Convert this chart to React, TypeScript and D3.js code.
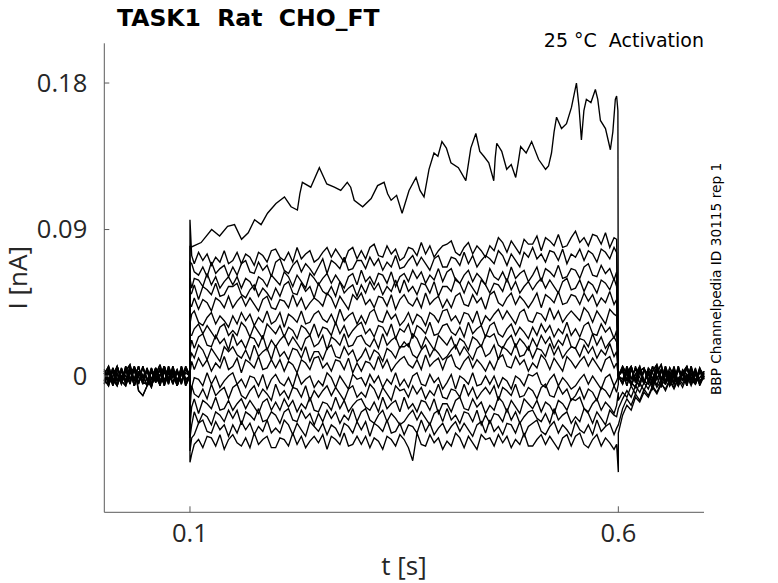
import React from 'react';
import * as d3 from 'd3';

// ---------- text ----------
const title = 'TASK1  Rat  CHO_FT';
const subtitle = '25 °C  Activation';
const sideNote = 'BBP Channelpedia ID 30115 rep 1';
const xLabel = 't [s]';
const yLabel = 'I [nA]';

// ---------- axes ----------
const xDomain = [0, 0.7];
const yDomain = [-0.0837, 0.2044]; // nA
const xTicks = [0.1, 0.6];
const yTicks = [0, 0.09, 0.18];
const xTickLabels = ['0.1', '0.6'];
const yTickLabels = ['0', '0.09', '0.18'];

// ---------- sample times (s) ----------
const preTimes = [0, 0.005, 0.01, 0.015, 0.02, 0.025, 0.03, 0.035, 0.04, 0.045, 0.05, 0.055, 0.06, 0.065, 0.07, 0.075, 0.08, 0.085, 0.09, 0.095, 0.1];
const pulseTimes = [
  0.102, 0.105, 0.11, 0.115, 0.12, 0.125, 0.13, 0.135, 0.14, 0.145,
  0.15, 0.155, 0.16, 0.165, 0.17, 0.175, 0.18, 0.185, 0.19, 0.195,
  0.2, 0.205, 0.21, 0.215, 0.22, 0.225, 0.23, 0.235, 0.24, 0.245,
  0.25, 0.255, 0.26, 0.265, 0.27, 0.275, 0.28, 0.285, 0.29, 0.295,
  0.3, 0.305, 0.31, 0.315, 0.32, 0.325, 0.33, 0.335, 0.34, 0.345,
  0.35, 0.355, 0.36, 0.365, 0.37, 0.375, 0.38, 0.385, 0.39, 0.395,
  0.4, 0.405, 0.41, 0.415, 0.42, 0.425, 0.43, 0.435, 0.44, 0.445,
  0.45, 0.455, 0.46, 0.465, 0.47, 0.475, 0.48, 0.485, 0.49, 0.495,
  0.5, 0.505, 0.51, 0.515, 0.52, 0.525, 0.53, 0.535, 0.54, 0.545,
  0.55, 0.555, 0.56, 0.565, 0.57, 0.575, 0.58, 0.585, 0.59, 0.595,
  0.598,
];
const postTimes = [0.6, 0.605, 0.61, 0.615, 0.62, 0.625, 0.63, 0.635, 0.64, 0.645, 0.65, 0.655, 0.66, 0.665, 0.67, 0.675, 0.68, 0.685, 0.69, 0.695, 0.7];

// ---------- holding (pre-pulse) currents, pA ----------
const pre1 = [2, -4, 5, -3, 4, -5, 3, -2, 6, -4, -5, 3, -4, 5, -3, 4, -5, 3, -4, 5, 0];
const pre2 = [-3, 5, -4, 6, -2, 4, -5, 5, -9, -12, -6, -2, 5, -4, 3, -5, 6, -3, 4, -4, 0];
const pre3 = [4, -2, 3, -6, 5, -3, 4, -6, 3, -5, 4, -2, 3, -6, 4, -3, 5, -6, 3, -2, 0];
const pre4 = [-5, 3, -6, 2, -4, 6, -2, 4, -5, 6, -3, 5, -2, 4, -6, 2, -4, 3, -5, 6, 0];
const pre5 = [1, 6, -2, -6, 3, 0, -4, 6, -1, -3, 5, -6, 1, 7, -3, -1, 4, -5, 6, -2, 0];
const pre6 = [-2, -6, 4, 1, -5, 3, 7, -3, 0, 5, -2, -7, 4, 0, 6, -4, 2, -6, 1, 4, 0];
const pre7 = [3, -5, 0, 6, -3, -6, 2, 5, -4, 1, -6, 4, -1, -5, 6, -2, 3, -4, 5, -6, 0];
const pre8 = [-4, 2, -5, 4, 0, -3, 6, -6, 2, -1, 3, -5, 5, -2, -4, 6, -1, 4, -3, 2, 0];

// ---------- post-pulse currents, pA ----------
const post1 = [0, 5, -3, 6, -4, 3, -5, 4, -2, 6, -4, 5, -3, 4, -6, 3, -2, 5, -4, 3, -2];
const post2 = [0, -4, 6, -2, 5, -5, 4, -3, 6, -2, 4, -5, 3, -4, 6, -3, 5, -2, 4, -5, 3];
const post3 = [0, 3, -6, 4, -2, 5, -4, 2, -5, 4, -3, 6, -2, 5, -4, 2, -6, 4, -3, 5, -1];
const post4 = [0, -2, 4, -6, 1, 6, -3, -5, 3, 7, -1, -4, 5, 0, -6, 2, 6, -2, -5, 4, 1];
const post5 = [0, 6, 1, -4, -7, 3, 5, -2, -6, 2, 7, -3, 0, -5, 4, 1, -3, 6, -4, -1, 2];
const post6 = [0, -5, 2, 6, -3, -6, 4, 1, -4, 5, -2, 3, -6, 0, 4, -3, 6, -5, 2, -4, 1];
const post7 = [0, 4, -2, -5, 6, -1, -4, 5, 2, -6, 3, 0, -3, 6, -5, 4, 1, -2, 5, -6, 0];
const tail1 = [-30, -20, -14, -18, -11, -15, -8, -12, -6, -10, -4, -9, -3, -8, -2, -7, 0, -6, 1, -5, 0];
const tail2 = [-15, -10, -13, -6, -11, -4, -9, -2, -8, 0, -7, 2, -6, 3, -5, 1, -4, 2, -5, 3, -2];
const tail3 = [-20, -14, -9, -13, -6, -10, -4, -8, -1, -7, -3, -5, 1, -4, -2, 3, -3, 1, -4, 2, 0];
const tail4 = [-35, -24, -18, -21, -13, -16, -10, -13, -7, -11, -5, -8, -2, -7, -1, -5, 1, -4, 2, -3, 0];

// ---------- largest sweep (read at irregular times), pA ----------
const topTimes = [
  0.1005, 0.113, 0.1253, 0.1346, 0.1439, 0.152, 0.1602, 0.168, 0.1754, 0.183,
  0.1905, 0.2004, 0.2103, 0.218, 0.2254, 0.2283, 0.2312, 0.241, 0.251, 0.2597,
  0.2685, 0.276, 0.2836, 0.2876, 0.2917, 0.3016, 0.3115, 0.319, 0.3266, 0.3307,
  0.3348, 0.3412, 0.3476, 0.3557, 0.3639, 0.3685, 0.3732, 0.379, 0.3848, 0.3894,
  0.3941, 0.3993, 0.4046, 0.4133, 0.422, 0.4278, 0.4337, 0.4383, 0.443, 0.4488,
  0.4546, 0.4563, 0.4581, 0.4639, 0.4697, 0.475, 0.4802, 0.4831, 0.486, 0.4924,
  0.4988, 0.507, 0.5151, 0.5185, 0.522, 0.525, 0.5279, 0.5337, 0.5395, 0.5453,
  0.5511, 0.554, 0.5569, 0.5598, 0.5627, 0.568, 0.5732, 0.576, 0.5791, 0.585,
  0.5907, 0.5936, 0.5965, 0.598, 0.5995,
];
const topValues = [
  79, 82, 90, 86, 92, 93, 84, 88, 96, 93,
  100, 106, 110, 104, 102, 112, 119, 116, 128, 118,
  116, 114, 119, 116, 108, 104, 109, 117, 119, 112,
  108, 111, 100, 114, 122, 114, 110, 127, 137, 135,
  144, 140, 131, 128, 120, 140, 149, 138, 135, 131,
  120, 134, 143, 138, 127, 130, 122, 131, 141, 137,
  144, 133, 127, 129, 137, 150, 159, 152, 155, 165,
  180, 166, 145, 163, 170, 168, 176, 170, 157, 152,
  139, 150, 170, 172, 163,
];

// ---------- other sweeps during the step (pulseTimes), pA ----------
const sweepB = [
  74, 69, 76, 71, 75, 68, 73, 70, 77, 69, 71, 76, 69, 75, 73, 68, 76, 74, 70, 77,
  78, 73, 71, 76, 70, 79, 72, 75, 77, 70, 72, 76, 79, 73, 78, 74, 70, 77, 79, 72,
  77, 72, 79, 81, 74, 73, 80, 75, 78, 71, 73, 79, 78, 74, 82, 75, 80, 73, 77, 80,
  81, 83, 76, 74, 79, 82, 75, 80, 77, 73, 80, 77, 85, 82, 76, 83, 79, 75, 84, 81,
  81, 86, 77, 85, 83, 80, 87, 79, 80, 85, 89, 82, 85, 80, 87, 86, 81, 88, 79, 85, 84,
];
const sweepC = [
  69, 64, 62, 67, 61, 70, 63, 66, 68, 61, 67, 62, 69, 71, 64, 63, 70, 65, 68, 61,
  70, 72, 65, 63, 68, 71, 64, 69, 66, 62, 67, 72, 63, 71, 69, 66, 73, 65, 66, 71,
  71, 66, 73, 68, 72, 65, 70, 67, 74, 66, 67, 71, 74, 68, 73, 69, 65, 72, 74, 67,
  67, 73, 72, 68, 76, 69, 74, 67, 71, 74, 72, 69, 77, 74, 68, 75, 71, 67, 76, 73,
  79, 72, 75, 70, 77, 76, 71, 78, 69, 75, 73, 78, 71, 77, 75, 70, 78, 76, 72, 79, 76,
];
const sweepD = [
  54, 60, 59, 55, 63, 56, 61, 54, 58, 61, 56, 61, 54, 60, 58, 53, 61, 59, 55, 62,
  59, 56, 64, 61, 55, 62, 58, 54, 63, 60, 56, 60, 63, 57, 62, 58, 54, 61, 63, 56,
  65, 58, 61, 56, 63, 62, 57, 64, 55, 61, 63, 58, 65, 60, 64, 57, 62, 59, 66, 58,
  64, 66, 59, 57, 62, 65, 58, 63, 60, 56, 66, 61, 59, 64, 58, 67, 60, 63, 65, 58,
  62, 67, 58, 66, 64, 61, 68, 60, 61, 66, 65, 60, 67, 69, 62, 61, 68, 63, 66, 59, 64,
];
const sweepE = [
  51, 56, 47, 55, 53, 50, 57, 49, 50, 55, 55, 57, 50, 48, 53, 56, 49, 54, 51, 47,
  54, 49, 56, 58, 51, 50, 57, 52, 55, 48, 57, 52, 50, 55, 49, 58, 51, 54, 56, 49,
  56, 51, 58, 53, 57, 50, 55, 52, 59, 51, 59, 52, 55, 50, 57, 56, 51, 58, 49, 55,
  55, 52, 60, 57, 51, 58, 54, 50, 59, 56, 51, 57, 56, 52, 60, 53, 58, 51, 55, 58,
  53, 57, 60, 54, 59, 55, 51, 58, 60, 53, 54, 59, 52, 58, 56, 51, 59, 57, 53, 60, 55,
];
const sweepF = [
  43, 48, 41, 47, 45, 40, 48, 46, 42, 49, 42, 46, 49, 43, 48, 44, 40, 47, 49, 42,
  41, 47, 46, 42, 50, 43, 48, 41, 45, 48, 46, 43, 51, 48, 42, 49, 45, 41, 50, 47,
  51, 44, 47, 42, 49, 48, 43, 50, 41, 47, 50, 45, 43, 48, 42, 51, 44, 47, 49, 42,
  47, 42, 49, 51, 44, 43, 50, 45, 48, 41, 50, 52, 45, 43, 48, 51, 44, 49, 46, 42,
  46, 51, 42, 50, 48, 45, 52, 44, 45, 50, 49, 44, 51, 46, 50, 43, 48, 45, 52, 44, 47,
];
const sweepG = [
  38, 40, 33, 31, 36, 39, 32, 37, 34, 30, 37, 32, 39, 34, 38, 31, 36, 33, 40, 32,
  34, 39, 30, 38, 36, 33, 40, 32, 33, 38, 40, 35, 33, 38, 32, 41, 34, 37, 39, 32,
  37, 32, 39, 41, 34, 33, 40, 35, 38, 31, 34, 39, 32, 38, 36, 31, 39, 37, 33, 40,
  41, 34, 37, 32, 39, 38, 33, 40, 31, 37, 34, 38, 41, 35, 40, 36, 32, 39, 41, 34,
  33, 39, 38, 34, 42, 35, 40, 33, 37, 40, 37, 34, 42, 39, 33, 40, 36, 32, 41, 38, 37,
];
const sweepH = [
  25, 29, 32, 26, 31, 27, 23, 30, 32, 25, 28, 25, 33, 30, 24, 31, 27, 23, 32, 29,
  26, 31, 24, 30, 28, 23, 31, 29, 25, 32, 24, 30, 29, 25, 33, 26, 31, 24, 28, 31,
  33, 26, 29, 24, 31, 30, 25, 32, 23, 29, 27, 32, 23, 31, 29, 26, 33, 25, 26, 31,
  32, 27, 25, 30, 24, 33, 26, 29, 31, 24, 31, 33, 26, 24, 29, 32, 25, 30, 27, 23,
  30, 25, 32, 27, 31, 24, 29, 26, 33, 25, 29, 24, 31, 33, 26, 25, 32, 27, 30, 23, 28,
];
const sweepI = [
  22, 17, 24, 26, 19, 18, 25, 20, 23, 16, 26, 19, 22, 17, 24, 23, 18, 25, 16, 22,
  18, 22, 25, 19, 24, 20, 16, 23, 25, 18, 20, 25, 16, 24, 22, 19, 26, 18, 19, 24,
  25, 20, 18, 23, 17, 26, 19, 22, 24, 17, 21, 18, 26, 23, 17, 24, 20, 16, 25, 22,
  19, 24, 17, 23, 21, 16, 24, 22, 18, 25, 24, 26, 19, 17, 22, 25, 18, 23, 20, 16,
  23, 18, 25, 20, 24, 17, 22, 19, 26, 18, 17, 23, 22, 18, 26, 19, 24, 17, 21, 24, 21,
];
const sweepJ = [
  14, 11, 19, 16, 10, 17, 13, 9, 18, 15, 18, 13, 11, 16, 10, 19, 12, 15, 17, 10,
  19, 12, 15, 10, 17, 16, 11, 18, 9, 15, 15, 10, 17, 19, 12, 11, 18, 13, 16, 9,
  12, 17, 10, 16, 14, 9, 17, 15, 11, 18, 18, 20, 13, 11, 16, 19, 12, 17, 14, 10,
  12, 16, 19, 13, 18, 14, 10, 17, 19, 12, 14, 19, 10, 18, 16, 13, 20, 12, 13, 18,
  11, 17, 16, 12, 20, 13, 18, 11, 15, 18, 17, 12, 19, 14, 18, 11, 16, 13, 20, 12, 15,
];
const sweepK = [
  9, 4, 11, 6, 10, 3, 8, 5, 12, 4, 6, 11, 2, 10, 8, 5, 12, 4, 5, 10,
  5, 10, 3, 9, 7, 2, 10, 8, 4, 11, 12, 5, 8, 3, 10, 9, 4, 11, 2, 8,
  3, 9, 8, 4, 12, 5, 10, 3, 7, 10, 12, 7, 5, 10, 4, 13, 6, 9, 11, 4,
  11, 13, 6, 4, 9, 12, 5, 10, 7, 3, 9, 4, 11, 13, 6, 5, 12, 7, 10, 3,
  8, 5, 13, 10, 4, 11, 7, 3, 12, 9, 5, 9, 12, 6, 11, 7, 3, 10, 12, 5, 8,
];
const sweepL = [
  -7, -1, -2, -6, 2, -5, 0, -7, -3, 0, 2, -5, -2, -7, 0, -1, -6, 1, -8, -2,
  1, -4, -6, -1, -7, 2, -5, -2, 0, -7, -3, -6, 2, -1, -7, 0, -4, -8, 1, -2,
  -1, -6, 1, -4, 0, -7, -2, -5, 2, -6, -2, -7, 0, 2, -5, -6, 1, -4, -1, -8,
  -4, 1, -8, 0, -2, -5, 2, -6, -5, 0, -5, 0, -7, -1, -3, -8, 0, -2, -6, 1,
  0, 2, -5, -7, -2, 1, -6, -1, -4, -8, -6, -2, 1, -5, 0, -4, -8, -1, 1, -6, -3,
];
const sweepM = [
  -6, -11, -13, -8, -14, -5, -12, -9, -7, -14, -7, -5, -12, -14, -9, -6, -13, -8, -11, -15,
  -5, -12, -9, -14, -7, -8, -13, -6, -15, -9, -13, -9, -6, -12, -7, -11, -15, -8, -6, -13,
  -10, -13, -5, -8, -14, -7, -11, -15, -6, -9, -8, -13, -6, -11, -7, -14, -9, -12, -5, -13,
  -14, -8, -9, -13, -5, -12, -7, -14, -10, -7, -11, -6, -15, -7, -9, -12, -5, -13, -12, -7,
  -9, -14, -7, -5, -12, -13, -6, -11, -8, -15, -12, -7, -14, -8, -10, -15, -7, -9, -13, -6, -10,
];
const sweepN = [
  -19, -14, -23, -15, -17, -20, -13, -21, -20, -15, -21, -17, -14, -20, -15, -19, -23, -16, -14, -21,
  -16, -21, -14, -19, -15, -22, -17, -20, -13, -21, -22, -16, -17, -21, -13, -20, -15, -22, -18, -15,
  -14, -19, -21, -16, -22, -13, -20, -17, -15, -22, -13, -20, -17, -22, -15, -16, -21, -14, -23, -17,
  -17, -22, -15, -13, -20, -21, -14, -19, -16, -23, -18, -21, -13, -16, -22, -15, -19, -23, -14, -17,
  -20, -15, -22, -16, -18, -23, -15, -17, -21, -14, -15, -13, -20, -22, -17, -14, -21, -16, -19, -23, -18,
];
const sweepO = [
  -30, -22, -29, -23, -25, -30, -22, -24, -28, -21, -26, -21, -30, -22, -24, -27, -20, -28, -27, -22,
  -24, -29, -22, -20, -27, -28, -21, -26, -23, -30, -23, -28, -21, -26, -22, -29, -24, -27, -20, -28,
  -22, -20, -27, -29, -24, -21, -28, -23, -26, -30, -28, -24, -21, -27, -22, -26, -30, -23, -21, -28,
  -20, -27, -24, -29, -22, -23, -28, -21, -30, -24, -29, -23, -24, -28, -20, -27, -22, -29, -25, -22,
  -21, -26, -28, -23, -29, -20, -27, -24, -22, -29, -25, -28, -20, -23, -29, -22, -26, -30, -21, -24, -25,
];
const sweepP = [
  -38, -36, -29, -27, -34, -35, -28, -33, -30, -37, -30, -35, -28, -33, -29, -36, -31, -34, -27, -35,
  -32, -35, -27, -30, -36, -29, -33, -37, -28, -31, -34, -29, -36, -30, -32, -37, -29, -31, -35, -28,
  -33, -28, -37, -29, -31, -34, -27, -35, -34, -29, -36, -30, -31, -35, -27, -34, -29, -36, -32, -29,
  -35, -31, -28, -34, -29, -33, -37, -30, -28, -35, -27, -34, -31, -36, -29, -30, -35, -28, -37, -31,
  -29, -27, -34, -36, -31, -28, -35, -30, -33, -37, -28, -33, -35, -30, -36, -27, -34, -31, -29, -36, -32,
];
const sweepQ = [
  -48, -42, -39, -44, -37, -38, -43, -36, -45, -39, -36, -41, -43, -38, -44, -35, -42, -39, -37, -44,
  -44, -38, -39, -43, -35, -42, -37, -44, -40, -37, -41, -36, -45, -37, -39, -42, -35, -43, -42, -37,
  -42, -37, -44, -38, -40, -45, -37, -39, -43, -36, -39, -44, -52, -35, -42, -43, -36, -41, -38, -45,
  -40, -43, -35, -38, -44, -37, -41, -45, -36, -39, -38, -43, -36, -41, -37, -44, -39, -42, -35, -43,
  -43, -39, -36, -42, -37, -41, -45, -38, -36, -43, -37, -35, -42, -44, -39, -36, -43, -38, -41, -45, -42,
];

// onset (t = 0.1 s) and offset (t = 0.6 s) transient peaks, pA; sweep order: top, B..Q
const onsetPeaks = [80, 96, 70, 60, 50, 44, 32, 25, 16, 10, 2, -12, -20, -30, -38, -46, -53];
const offsetPeaks = [0, 0, 0, 0, 0, 0, 0, 0, 0, 0, 0, 0, -5, -10, -20, -30, -59];
const preChoice = [0, 1, 2, 3, 4, 5, 6, 7, 0, 1, 2, 3, 4, 5, 6, 7, 0];
const postChoice = [0, 1, 2, 3, 4, 5, 6, 0, 1, 2, 3, 4, 5, 8, 9, 7, 10];

const preSets = [pre1, pre2, pre3, pre4, pre5, pre6, pre7, pre8];
const postSets = [post1, post2, post3, post4, post5, post6, post7, tail1, tail2, tail3, tail4];
const stepSweeps = [sweepB, sweepC, sweepD, sweepE, sweepF, sweepG, sweepH, sweepI, sweepJ, sweepK, sweepL, sweepM, sweepN, sweepO, sweepP, sweepQ];

const W = 778;
const H = 583;
const M = { left: 104.3, right: 74, top: 43.3, bottom: 70.7 };
const FONT = "'Open Sans', 'Noto Sans', sans-serif";
const FONT2 = "'DejaVu Sans', sans-serif";

function buildSweep(i: number): [number, number][] {
  const pts: [number, number][] = [];
  const pre = preSets[preChoice[i]];
  preTimes.forEach((t, k) => pts.push([t, pre[k]]));
  pts.push([0.1, onsetPeaks[i]]);
  if (i === 0) {
    topTimes.forEach((t, k) => pts.push([t, topValues[k]]));
  } else {
    const s = stepSweeps[i - 1];
    pulseTimes.forEach((t, k) => pts.push([t, s[k]]));
  }
  pts.push([0.6, offsetPeaks[i]]);
  const post = postSets[postChoice[i]];
  postTimes.forEach((t, k) => pts.push([t, post[k]]));
  return pts;
}

export default function App() {
  const x = d3.scaleLinear().domain(xDomain).range([M.left, W - M.right]);
  const y = d3.scaleLinear().domain(yDomain).range([H - M.bottom, M.top]);
  const line = d3
    .line<[number, number]>()
    .x((d) => x(d[0]))
    .y((d) => y(d[1] / 1000));

  const sweeps = onsetPeaks.map((_, i) => buildSweep(i));
  const axisColor = '#5a5a5a';
  const textColor = '#262626';
  const x0 = M.left;
  const x1 = W - M.right;
  const yb = H - M.bottom;

  return (
    <svg width={W} height={H} style={{ position: 'absolute', left: 0, top: 0, background: '#fff' }}>
      <rect x={0} y={0} width={W} height={H} fill="#fff" />
      <g fill="none" stroke="#000" strokeWidth={1.35} strokeLinejoin="miter" strokeMiterlimit={3}>
        {sweeps.map((s, i) => (
          <path key={i} d={line(s) || ''} />
        ))}
      </g>
      <g stroke={axisColor} strokeWidth={1} fill="none">
        <line x1={x0} y1={yb} x2={x1} y2={yb} />
        <line x1={x0} y1={yb} x2={x0} y2={M.top} />
        {xTicks.map((t) => (
          <line key={'xt' + t} x1={x(t)} x2={x(t)} y1={yb} y2={yb - 6} />
        ))}
        {yTicks.map((t) => (
          <line key={'yt' + t} x1={x0} x2={x0 + 5} y1={y(t)} y2={y(t)} />
        ))}
      </g>
      <g fontFamily={FONT} fill={textColor} fontSize={25.5}>
        {xTicks.map((t, i) => (
          <text key={'xl' + t} x={x(t)} y={yb + 30} textAnchor="middle">
            {xTickLabels[i]}
          </text>
        ))}
        {yTicks.map((t, i) => (
          <text key={'yl' + t} x={x0 - 17} y={y(t)} dy="0.35em" textAnchor="end">
            {yTickLabels[i]}
          </text>
        ))}
      </g>
      <text x={404} y={575} textAnchor="middle" fontFamily={FONT} fontSize={26} fill={textColor}>
        {xLabel}
      </text>
      <text
        transform={`translate(27, ${(M.top + yb) / 2}) rotate(-90)`}
        textAnchor="middle"
        fontFamily={FONT}
        fontSize={26}
        fill={textColor}
      >
        {yLabel}
      </text>
      <text x={117} y={26} fontFamily={FONT2} fontWeight="bold" fontSize={23.5} fill="#000" style={{ whiteSpace: 'pre' }}>
        {title}
      </text>
      <text x={704} y={47} textAnchor="end" fontFamily={FONT2} fontSize={19} fill="#000" style={{ whiteSpace: 'pre' }}>
        {subtitle}
      </text>
      <text
        transform={`translate(721, 279) rotate(-90)`}
        textAnchor="middle"
        fontFamily={FONT2}
        fontSize={13.7}
        fill="#000"
      >
        {sideNote}
      </text>
    </svg>
  );
}
